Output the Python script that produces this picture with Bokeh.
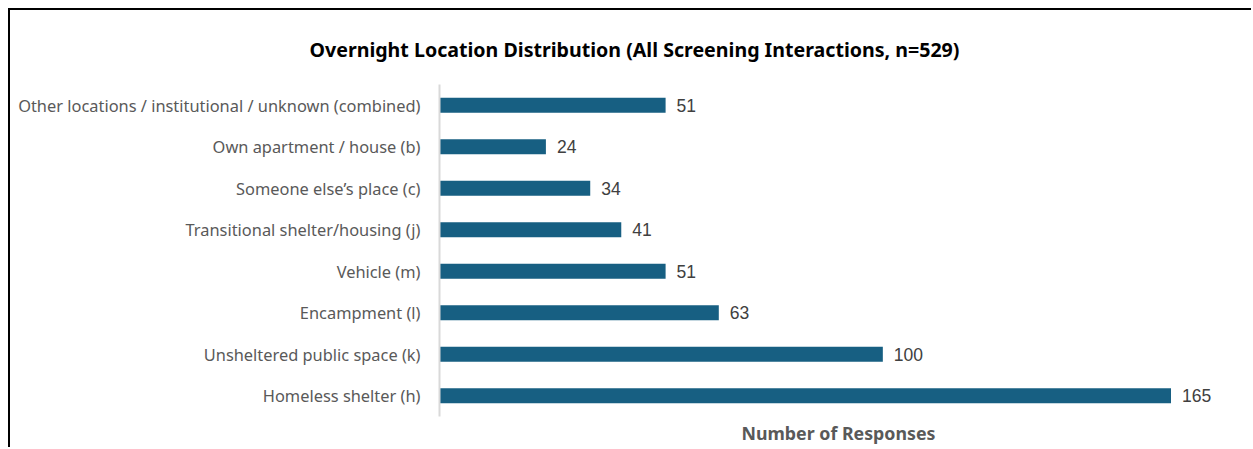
from bokeh.plotting import figure
from bokeh.models import ColumnDataSource, FactorRange, Range1d, FixedTicker
from bokeh.embed import file_html
from bokeh.resources import INLINE
from bokeh.core.properties import value

categories = [
    "Other locations / institutional / unknown (combined)",
    "Own apartment / house (b)",
    "Someone else\u2019s place (c)",
    "Transitional shelter/housing (j)",
    "Vehicle (m)",
    "Encampment (l)",
    "Unsheltered public space (k)",
    "Homeless shelter (h)",
]
counts = [51, 24, 34, 41, 51, 63, 100, 165]
title_text = "Overnight Location Distribution (All Screening Interactions, n=529)"
x_label = "Number of Responses"

src = ColumnDataSource(dict(cat=categories, n=counts, lab=[str(c) for c in counts]))

p = figure(
    width=1243, height=439,
    y_range=FactorRange(factors=list(reversed(categories)), range_padding=0),
    x_range=Range1d(0, 180),
    output_backend="svg", toolbar_location=None,
    min_border_left=429, min_border_right=16, min_border_top=74, min_border_bottom=33,
)
p.styles = {"border-left": "2px solid black", "border-top": "2px solid black",
            "margin-left": "8px", "margin-top": "8px"}
p.outline_line_color = None
p.grid.grid_line_color = None
p.background_fill_color = "white"
p.border_fill_color = "white"

p.hbar(y="cat", right="n", left=0, height=0.36, source=src,
       fill_color="#175f82", line_color=None)
p.text(x="n", y="cat", text="lab", source=src, x_offset=11,
       text_baseline="middle", text_align="left",
       text_font=value("Liberation Sans"), text_font_size="17.5px", text_color="#404040")

p.title.text = title_text
p.title.align = "left"
p.title.offset = -130
p.title.text_font = "Noto Sans"
p.title.text_font_size = "19.6px"
p.title.text_font_style = "bold"
p.title.text_color = "#000000"
p.title.standoff = 44

ya = p.yaxis[0]
ya.major_tick_line_color = None
ya.minor_tick_line_color = None
ya.axis_line_color = "#d9d9d9"
ya.axis_line_width = 2
ya.major_label_standoff = 13
ya.major_label_text_font = "Noto Sans"
ya.major_label_text_font_size = "16.4px"
ya.major_label_text_color = "#595959"

xa = p.xaxis[0]
xa.ticker = FixedTicker(ticks=[])
xa.axis_line_color = None
xa.major_tick_line_color = None
xa.minor_tick_line_color = None
xa.major_label_text_font_size = "0px"
xa.axis_label = x_label
xa.axis_label_standoff = 4
xa.axis_label_text_font = "Noto Sans"
xa.axis_label_text_font_size = "17.8px"
xa.axis_label_text_font_style = "bold"
xa.axis_label_text_color = "#595959"

open("out.html", "w").write(file_html(p, INLINE))
